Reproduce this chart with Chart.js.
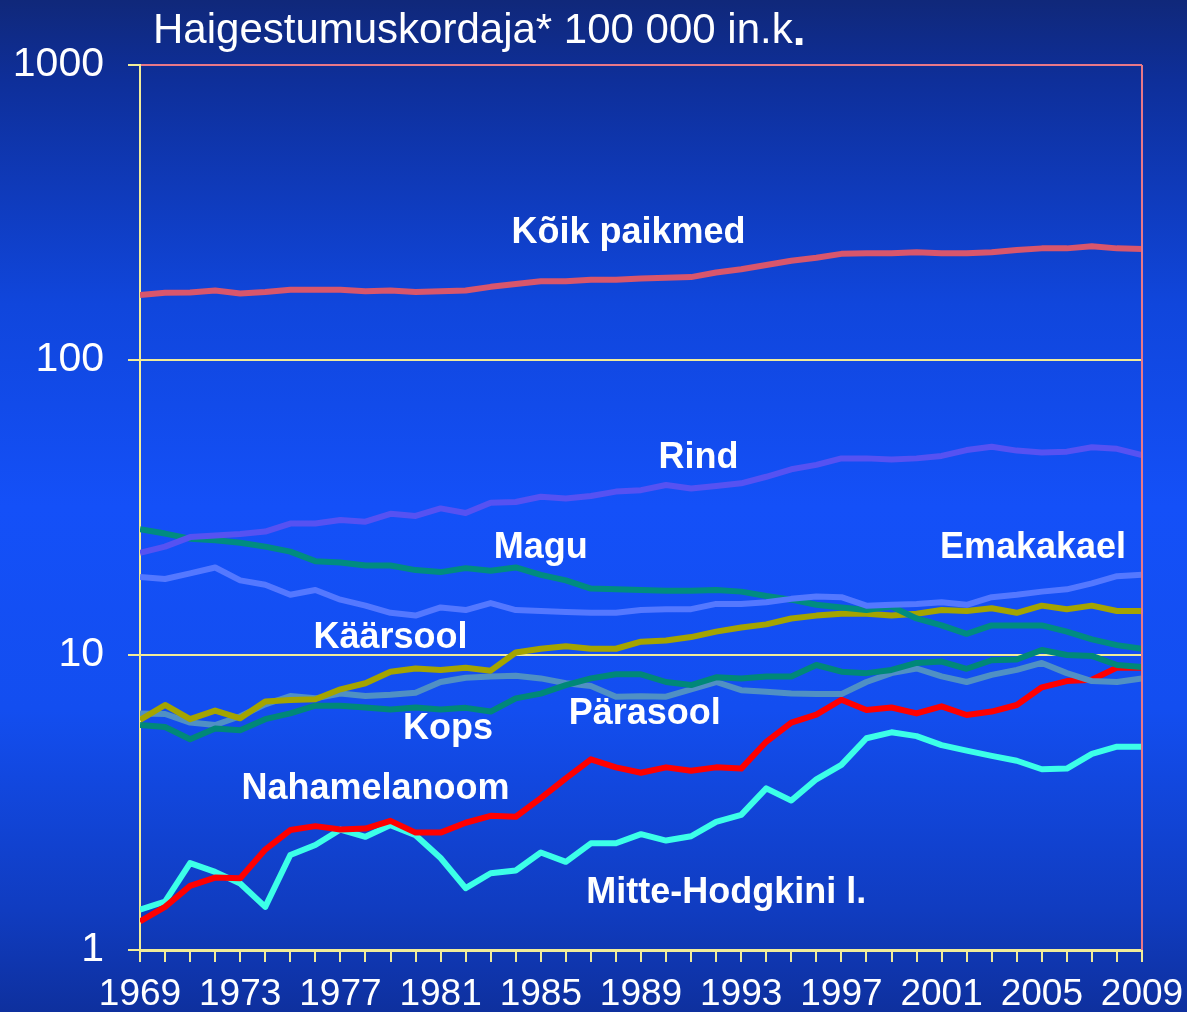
<!DOCTYPE html>
<html>
<head>
<meta charset="utf-8">
<script src="https://cdn.jsdelivr.net/npm/chart.js@4.4.1/dist/chart.umd.min.js"></script>
<style>
  html, body { margin: 0; padding: 0; background: #0e2f9a; }
  canvas { display: block; }
</style>
</head>
<body>
<canvas id="myChart" width="1187" height="1012"></canvas>
<script>
// aastad 1969..2009
const years = [];
for (let y = 1969; y <= 2009; y++) years.push(y);

const koik = [166, 169, 169.5, 172, 168, 170, 173, 173, 173, 171, 172, 170, 171, 172, 177, 181, 185, 185, 187, 187, 189, 190, 191, 198, 203, 210, 217, 222, 229, 230, 230, 232, 230, 230, 232, 236, 239, 239, 243, 239, 238];
const rind = [22.2, 23.3, 25.1, 25.4, 25.7, 26.2, 27.9, 27.9, 28.7, 28.3, 30.1, 29.6, 31.4, 30.3, 32.8, 33.0, 34.4, 33.9, 34.6, 35.8, 36.2, 37.7, 36.7, 37.4, 38.2, 40.2, 42.6, 44.1, 46.4, 46.4, 46.0, 46.4, 47.3, 49.5, 50.8, 49.3, 48.6, 48.9, 50.6, 50.0, 47.6];
const emakakael = [18.4, 18.1, 18.9, 19.8, 17.9, 17.3, 16.0, 16.6, 15.4, 14.7, 13.9, 13.6, 14.5, 14.2, 15.0, 14.2, 14.1, 14.0, 13.9, 13.9, 14.2, 14.3, 14.3, 14.9, 14.9, 15.1, 15.5, 15.8, 15.7, 14.7, 14.8, 14.9, 15.1, 14.8, 15.7, 16.0, 16.4, 16.7, 17.5, 18.5, 18.7];
const magu = [26.7, 25.8, 24.8, 24.5, 24.0, 23.3, 22.4, 20.8, 20.6, 20.1, 20.1, 19.4, 19.1, 19.7, 19.3, 19.8, 18.7, 17.9, 16.8, 16.7, 16.6, 16.5, 16.5, 16.6, 16.4, 15.85, 15.4, 14.8, 14.5, 14.2, 14.6, 13.3, 12.6, 11.8, 12.6, 12.6, 12.6, 12.0, 11.3, 10.8, 10.5];
const kaarsool = [6.02, 6.77, 6.06, 6.48, 6.1, 6.95, 7.04, 7.08, 7.65, 8.02, 8.78, 9.0, 8.9, 9.06, 8.85, 10.2, 10.5, 10.7, 10.5, 10.5, 11.1, 11.2, 11.5, 12.0, 12.4, 12.7, 13.3, 13.6, 13.8, 13.8, 13.6, 13.8, 14.2, 14.1, 14.4, 13.9, 14.7, 14.3, 14.7, 14.1, 14.1];
const parasool = [5.79, 5.7, 5.18, 5.63, 5.56, 6.06, 6.34, 6.73, 6.73, 6.64, 6.54, 6.64, 6.54, 6.62, 6.43, 7.13, 7.4, 7.91, 8.33, 8.6, 8.6, 8.1, 7.91, 8.4, 8.33, 8.46, 8.46, 9.25, 8.78, 8.68, 8.9, 9.4, 9.5, 8.98, 9.6, 9.65, 10.4, 10.0, 9.93, 9.25, 9.1];
const kops = [6.34, 6.31, 5.9, 5.79, 6.2, 6.8, 7.26, 7.13, 7.4, 7.26, 7.33, 7.45, 8.1, 8.37, 8.46, 8.5, 8.33, 8.02, 7.85, 7.22, 7.25, 7.22, 7.65, 8.1, 7.6, 7.5, 7.4, 7.37, 7.37, 8.1, 8.68, 9.0, 8.46, 8.1, 8.56, 8.9, 9.4, 8.68, 8.16, 8.1, 8.33];
const melanoom = [1.25, 1.40, 1.65, 1.76, 1.75, 2.19, 2.55, 2.63, 2.56, 2.58, 2.74, 2.50, 2.50, 2.70, 2.85, 2.83, 3.27, 3.82, 4.43, 4.16, 3.99, 4.16, 4.05, 4.16, 4.12, 5.08, 5.9, 6.28, 7.05, 6.51, 6.64, 6.34, 6.7, 6.26, 6.43, 6.77, 7.77, 8.16, 8.24, 9.06, 9.06];
const hodgkin = [1.37, 1.46, 1.97, 1.84, 1.68, 1.40, 2.10, 2.27, 2.56, 2.42, 2.65, 2.45, 2.05, 1.62, 1.82, 1.86, 2.14, 1.99, 2.30, 2.30, 2.47, 2.35, 2.43, 2.72, 2.87, 3.53, 3.21, 3.79, 4.24, 5.22, 5.47, 5.31, 4.95, 4.74, 4.55, 4.38, 4.10, 4.12, 4.62, 4.89, 4.89];

const yTicks = [1, 10, 100, 1000];
const titleText = 'Haigestumuskordaja* 100 000 in.k';

// nimede asukohad (aasta, väärtus)
const seriesLabels = [
  { text: 'Kõik paikmed', year: 1988.5, value: 269 },
  { text: 'Rind', year: 1991.3, value: 46.5 },
  { text: 'Magu', year: 1985.0, value: 23.0 },
  { text: 'Emakakael', year: 2004.65, value: 23.0 },
  { text: 'Käärsool', year: 1979.0, value: 11.4 },
  { text: 'Pärasool', year: 1989.15, value: 6.3 },
  { text: 'Kops', year: 1981.3, value: 5.6 },
  { text: 'Nahamelanoom', year: 1978.4, value: 3.5 },
  { text: 'Mitte-Hodgkini l.', year: 1992.4, value: 1.56 }
];

const toPoints = arr => arr.map((v, i) => ({ x: years[i], y: v }));

const mkSet = (label, data, color) => ({
  label,
  data: toPoints(data),
  borderColor: color,
  backgroundColor: color,
  borderWidth: 6,
  pointRadius: 0,
  tension: 0,
  borderJoinStyle: 'round'
});

const bgPlugin = {
  id: 'bg',
  beforeDraw(chart) {
    const { ctx, width, height } = chart;
    const g = ctx.createLinearGradient(0, 0, 0, height);
    g.addColorStop(0, '#10287a');
    g.addColorStop(0.08, '#0e2f9a');
    g.addColorStop(0.3, '#1046dc');
    g.addColorStop(0.5, '#1450f8');
    g.addColorStop(0.7, '#134ef0');
    g.addColorStop(0.9, '#103cc0');
    g.addColorStop(1, '#0e309e');
    ctx.save();
    ctx.fillStyle = g;
    ctx.fillRect(0, 0, width, height);
    ctx.restore();
  }
};

const textPlugin = {
  id: 'texts',
  afterDraw(chart) {
    const { ctx, chartArea, scales } = chart;
    ctx.save();
    // parem äär
    ctx.strokeStyle = '#e87888';
    ctx.lineWidth = 2;
    ctx.beginPath();
    ctx.moveTo(chartArea.right, chartArea.top);
    ctx.lineTo(chartArea.right, chartArea.bottom);
    ctx.stroke();

    ctx.fillStyle = '#ffffff';
    ctx.textBaseline = 'middle';
    ctx.textAlign = 'left';
    ctx.font = '42px "Liberation Sans", Arial, sans-serif';
    ctx.fillText(titleText, 153, 31);
    const w = ctx.measureText(titleText).width;
    ctx.font = 'bold 46px "Liberation Sans", Arial, sans-serif';
    ctx.fillText('.', 153 + w, 32);

    ctx.textAlign = 'center';
    ctx.font = 'bold 36px "Liberation Sans", Arial, sans-serif';
    seriesLabels.forEach(l => {
      const x = scales.x.getPixelForValue(l.year);
      const y = scales.y.getPixelForValue(l.value);
      ctx.fillText(l.text, x, y);
    });
    ctx.restore();
  }
};

const yellow = '#f2ec98';
const pink = '#e87888';

new Chart(document.getElementById('myChart').getContext('2d'), {
  type: 'line',
  data: {
    datasets: [
      mkSet('Kõik paikmed', koik, '#d8566c'),
      mkSet('Rind', rind, '#5652f2'),
      mkSet('Emakakael', emakakael, '#5478ff'),
      mkSet('Magu', magu, '#008c80'),
      mkSet('Käärsool', kaarsool, '#a4a400'),
      mkSet('Pärasool', parasool, '#008878'),
      mkSet('Kops', kops, '#5090c4'),
      mkSet('Nahamelanoom', melanoom, '#ff0000'),
      mkSet('Mitte-Hodgkini l.', hodgkin, '#3cffe8')
    ]
  },
  options: {
    responsive: false,
    animation: false,
    devicePixelRatio: 1,
    layout: { padding: { top: 65, right: 45, left: 0, bottom: 0 } },
    plugins: {
      legend: { display: false },
      tooltip: { enabled: false }
    },
    scales: {
      x: {
        type: 'linear',
        min: 1969,
        max: 2009,
        afterFit(scale) {
          scale.height = 62;
          scale.paddingLeft = 0;
          scale.paddingRight = 0;
        },
        ticks: {
          stepSize: 1,
          autoSkip: false,
          maxRotation: 0,
          color: '#ffffff',
          padding: 11,
          font: { family: '"Liberation Sans", Arial, sans-serif', size: 37 },
          callback: v => ((v - 1969) % 4 === 0 ? String(v) : '')
        },
        grid: {
          drawOnChartArea: false,
          drawTicks: true,
          tickLength: 12,
          color: yellow,
          lineWidth: 2
        },
        border: { color: yellow, width: 3 }
      },
      y: {
        type: 'logarithmic',
        min: 1,
        max: 1000,
        afterFit(scale) { scale.width = 140; },
        afterBuildTicks(scale) {
          scale.ticks = yTicks.map(v => ({ value: v }));
        },
        ticks: {
          color: '#ffffff',
          padding: 24,
          font: { family: '"Liberation Sans", Arial, sans-serif', size: 41 },
          callback: v => String(v)
        },
        grid: {
          color: ctx => (ctx.tick && ctx.tick.value === 1000 ? pink : yellow),
          tickColor: yellow,
          lineWidth: 2,
          tickLength: 12
        },
        border: { color: yellow, width: 2 }
      }
    }
  },
  plugins: [bgPlugin, textPlugin]
});
</script>
</body>
</html>
